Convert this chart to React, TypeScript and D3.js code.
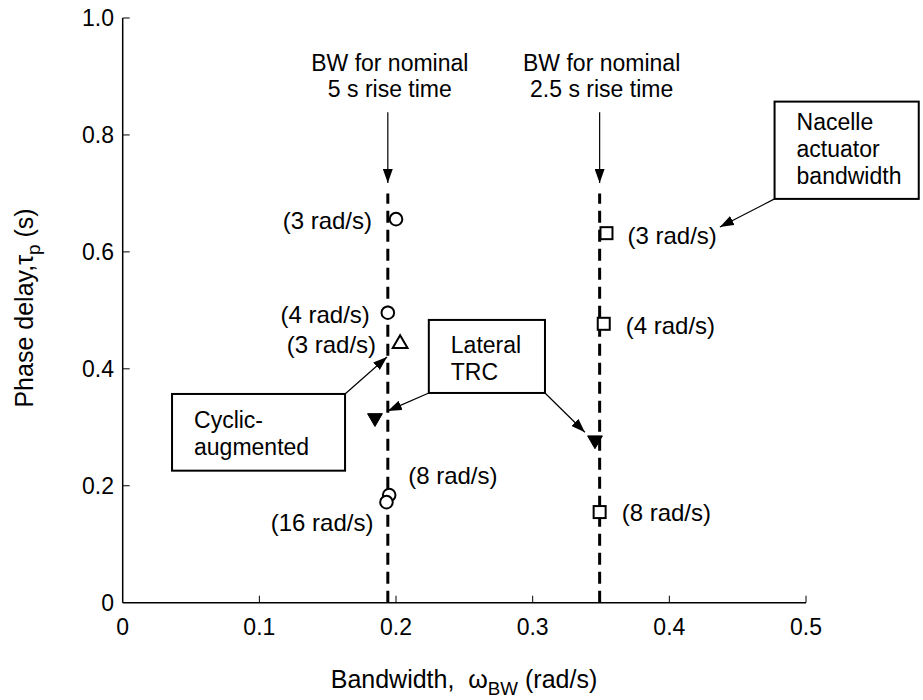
import React from 'react';
import * as d3 from 'd3';

// ---------- data ----------
const X_TICKS = [0, 0.1, 0.2, 0.3, 0.4, 0.5];
const X_TICK_LABELS = ['0', '0.1', '0.2', '0.3', '0.4', '0.5'];
const Y_TICKS = [0, 0.2, 0.4, 0.6, 0.8, 1.0];
const Y_TICK_LABELS = ['0', '0.2', '0.4', '0.6', '0.8', '1.0'];

const BW_LINES = [0.194, 0.349];
const BW_LINE_TOP = 0.7;
const BW_TITLES = [
  ['BW for nominal', '5 s rise time'],
  ['BW for nominal', '2.5 s rise time'],
];

const CIRCLE_X = [0.2, 0.194, 0.195, 0.193];
const CIRCLE_Y = [0.656, 0.496, 0.184, 0.172];
const CIRCLE_LABELS = ['(3 rad/s)', '(4 rad/s)', '(8 rad/s)', '(16 rad/s)'];

const SQUARE_X = [0.354, 0.352, 0.349];
const SQUARE_Y = [0.632, 0.477, 0.155];
const SQUARE_LABELS = ['(3 rad/s)', '(4 rad/s)', '(8 rad/s)'];

const OPEN_TRI_X = [0.203];
const OPEN_TRI_Y = [0.443];
const OPEN_TRI_LABELS = ['(3 rad/s)'];

const FILLED_TRI_X = [0.1846, 0.3456];
const FILLED_TRI_Y = [0.316, 0.278];

// ---------- layout / styling ----------
const W = 923;
const H = 700;
const FONT = 'Arial, "Liberation Sans", Helvetica, sans-serif';
const FS = 23;
const LABEL_FS = 24;
const TITLE_FS = 25;
const LINE_H = 27;

const CIRCLE_LABEL_POS = [
  { dx: -24, dy: 1, anchor: 'end' },
  { dx: -18, dy: 2, anchor: 'end' },
  { dx: 19, dy: -20, anchor: 'start' },
  { dx: -13, dy: 20, anchor: 'end' },
];
const SQUARE_LABEL_POS = [
  { dx: 21, dy: 2, anchor: 'start' },
  { dx: 22, dy: 2, anchor: 'start' },
  { dx: 22, dy: 1, anchor: 'start' },
];
const OPEN_TRI_LABEL_POS = [{ dx: -24, dy: 1, anchor: 'end' }];

// annotation boxes in data units
const BOXES = [
  { x0: 0.477, x1: 0.5825, y0: 0.6906, y1: 0.857, lines: ['Nacelle', 'actuator', 'bandwidth'], firstBaseline: 0.809 },
  { x0: 0.224, x1: 0.309, y0: 0.3587, y1: 0.4836, lines: ['Lateral', 'TRC'], firstBaseline: 0.427 },
  { x0: 0.0361, x1: 0.1627, y0: 0.2258, y1: 0.357, lines: ['Cyclic-', 'augmented'], firstBaseline: 0.299 },
];
const ARROWS = [
  { x0: 0.477, y0: 0.6906, x1: 0.437, y1: 0.6427 },
  { x0: 0.224, y0: 0.3587, x1: 0.194, y1: 0.328 },
  { x0: 0.309, y0: 0.3587, x1: 0.3382, y1: 0.2915 },
  { x0: 0.1627, y0: 0.357, x1: 0.1934, y1: 0.4203 },
  { x0: 0.194, y0: 0.839, x1: 0.194, y1: 0.718 },
  { x0: 0.349, y0: 0.839, x1: 0.349, y1: 0.718 },
];

export default function App() {
  const x = d3.scaleLinear().domain([0, 0.5]).range([122.7, 806]);
  const y = d3.scaleLinear().domain([0, 1]).range([602.7, 18]);
  const tri = d3.symbol().type(d3.symbolTriangle).size(95)();

  const textProps = { fontFamily: FONT, fontSize: FS, fill: '#000' };
  const labelProps = { fontFamily: FONT, fontSize: LABEL_FS, fill: '#000' };

  return (
    <svg
      width={W}
      height={H}
      style={{ position: 'absolute', left: 0, top: 0, background: '#fff' }}
    >
      <defs>
        <marker
          id="ah"
          viewBox="0 0 14 10"
          refX="14"
          refY="5"
          markerWidth="14"
          markerHeight="10"
          markerUnits="userSpaceOnUse"
          orient="auto"
        >
          <path d="M0,0 L14,5 L0,10 z" fill="#000" />
        </marker>
      </defs>
      <rect x={0} y={0} width={W} height={H} fill="#fff" />

      {/* axes */}
      <line x1={x(0)} x2={x(0)} y1={y(0)} y2={y(1)} stroke="#000" strokeWidth={1.5} />
      <line x1={x(0)} x2={x(0.5)} y1={y(0)} y2={y(0)} stroke="#000" strokeWidth={1.5} />
      {X_TICKS.map((t, i) => (
        <g key={'xt' + i}>
          {i > 0 && (
            <line x1={x(t)} x2={x(t)} y1={y(0)} y2={y(0) - 7} stroke="#000" strokeWidth={1} />
          )}
          <text x={x(t)} y={635} textAnchor="middle" {...textProps}>
            {X_TICK_LABELS[i]}
          </text>
        </g>
      ))}
      {Y_TICKS.map((t, i) => (
        <g key={'yt' + i}>
          {i > 0 && (
            <line x1={x(0)} x2={x(0) + 7} y1={y(t)} y2={y(t)} stroke="#000" strokeWidth={1} />
          )}
          <text x={114} y={y(t)} dy="0.35em" textAnchor="end" {...textProps}>
            {Y_TICK_LABELS[i]}
          </text>
        </g>
      ))}

      {/* axis titles */}
      <text x={464} y={688} textAnchor="middle" fontFamily={FONT} fontSize={TITLE_FS}>
        Bandwidth,{'\u00a0\u00a0'}ω
        <tspan fontSize={TITLE_FS * 0.75} dy={7}>BW</tspan>
        <tspan dy={-7}>{'\u00a0'}(rad/s)</tspan>
      </text>
      <text
        transform="translate(33,308) rotate(-90)"
        textAnchor="middle"
        fontFamily={FONT}
        fontSize={TITLE_FS}
      >
        Phase delay,τ
        <tspan fontSize={TITLE_FS * 0.75} dy={7}>p</tspan>
        <tspan dy={-7}>{'\u00a0'}(s)</tspan>
      </text>

      {/* BW dashed lines */}
      {BW_LINES.map((b, i) => (
        <g key={'bw' + i}>
          <line
            x1={x(b)}
            x2={x(b)}
            y1={y(0)}
            y2={y(BW_LINE_TOP)}
            stroke="#000"
            strokeWidth={3}
            strokeDasharray="12,7"
          />
          {BW_TITLES[i].map((s, j) => (
            <text key={j} x={x(b) + 2} y={71 + j * 26} textAnchor="middle" {...textProps}>
              {s}
            </text>
          ))}
        </g>
      ))}

      {/* arrows */}
      {ARROWS.map((a, i) => (
        <line
          key={'ar' + i}
          x1={x(a.x0)}
          y1={y(a.y0)}
          x2={x(a.x1)}
          y2={y(a.y1)}
          stroke="#000"
          strokeWidth={1.2}
          markerEnd="url(#ah)"
        />
      ))}

      {/* boxes */}
      {BOXES.map((b, i) => (
        <g key={'box' + i}>
          <rect
            x={x(b.x0)}
            y={y(b.y1)}
            width={x(b.x1) - x(b.x0)}
            height={y(b.y0) - y(b.y1)}
            fill="#fff"
            stroke="#000"
            strokeWidth={2}
          />
          {b.lines.map((s, j) => (
            <text key={j} x={x(b.x0) + 22} y={y(b.firstBaseline) + j * LINE_H} {...textProps}>
              {s}
            </text>
          ))}
        </g>
      ))}

      {/* circles */}
      {CIRCLE_X.map((cx, i) => (
        <g key={'c' + i}>
          <circle cx={x(cx)} cy={y(CIRCLE_Y[i])} r={6.3} fill="#fff" stroke="#000" strokeWidth={2} />
          <text
            x={x(cx) + CIRCLE_LABEL_POS[i].dx}
            y={y(CIRCLE_Y[i]) + CIRCLE_LABEL_POS[i].dy}
            dy="0.35em"
            textAnchor={CIRCLE_LABEL_POS[i].anchor}
            {...labelProps}
          >
            {CIRCLE_LABELS[i]}
          </text>
        </g>
      ))}

      {/* squares */}
      {SQUARE_X.map((sx, i) => (
        <g key={'s' + i}>
          <rect
            x={x(sx) - 6}
            y={y(SQUARE_Y[i]) - 6}
            width={12}
            height={12}
            fill="#fff"
            stroke="#000"
            strokeWidth={2}
          />
          <text
            x={x(sx) + SQUARE_LABEL_POS[i].dx}
            y={y(SQUARE_Y[i]) + SQUARE_LABEL_POS[i].dy}
            dy="0.35em"
            textAnchor={SQUARE_LABEL_POS[i].anchor}
            {...labelProps}
          >
            {SQUARE_LABELS[i]}
          </text>
        </g>
      ))}

      {/* open triangles */}
      {OPEN_TRI_X.map((tx, i) => (
        <g key={'ot' + i}>
          <path
            d={tri}
            transform={`translate(${x(tx)},${y(OPEN_TRI_Y[i])})`}
            fill="#fff"
            stroke="#000"
            strokeWidth={2}
          />
          <text
            x={x(tx) + OPEN_TRI_LABEL_POS[i].dx}
            y={y(OPEN_TRI_Y[i]) + OPEN_TRI_LABEL_POS[i].dy}
            dy="0.35em"
            textAnchor={OPEN_TRI_LABEL_POS[i].anchor}
            {...labelProps}
          >
            {OPEN_TRI_LABELS[i]}
          </text>
        </g>
      ))}

      {/* filled down triangles */}
      {FILLED_TRI_X.map((tx, i) => (
        <path
          key={'ft' + i}
          d={tri}
          transform={`translate(${x(tx)},${y(FILLED_TRI_Y[i])}) rotate(180)`}
          fill="#000"
          stroke="#000"
          strokeWidth={1}
        />
      ))}
    </svg>
  );
}
